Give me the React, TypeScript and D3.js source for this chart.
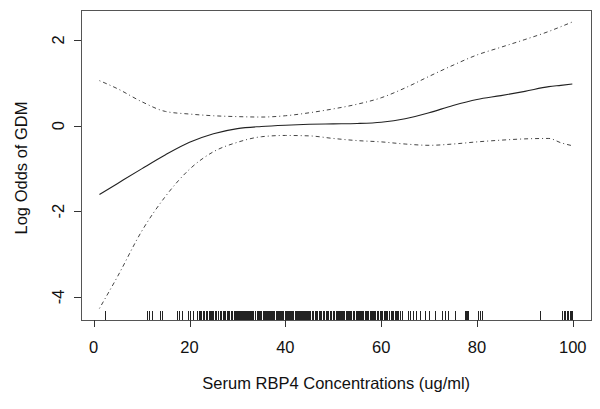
import React from 'react';
import * as d3 from 'd3';

// grid of RBP4 values where the smooth and its bands were read
const xGrid = [1.2, 5, 10, 15, 20, 25, 30, 35, 40, 45, 50, 55, 60, 65, 70, 75, 80, 85, 90, 95, 97.5, 99.9];
const fitLog = [-1.61, -1.35, -1.01, -0.68, -0.39, -0.19, -0.07, -0.02, 0.01, 0.03, 0.04, 0.05, 0.08, 0.16, 0.3, 0.47, 0.61, 0.7, 0.8, 0.91, 0.94, 0.97];
const upperBand = [1.05, 0.86, 0.56, 0.33, 0.27, 0.23, 0.21, 0.2, 0.23, 0.3, 0.39, 0.5, 0.65, 0.88, 1.15, 1.41, 1.65, 1.83, 2.01, 2.2, 2.31, 2.42];
const lowerBand = [-4.27, -3.52, -2.47, -1.65, -1.02, -0.61, -0.39, -0.26, -0.23, -0.24, -0.3, -0.35, -0.38, -0.43, -0.46, -0.43, -0.38, -0.34, -0.31, -0.3, -0.4, -0.47];

// rug: observed concentrations
const rugValues = [
  2.4, 11.1, 11.5, 12.1, 13.8, 14.2, 17.3, 17.8, 18.4, 19.7, 20.1, 20.8, 21.5,
  21.9, 22.2, 22.5, 22.8, 23.1, 23.4, 23.7, 24.1, 24.3, 24.5, 24.7, 25.0, 25.3, 25.6,
  25.9, 26.3, 26.6, 26.9, 27.2, 27.5, 27.8, 28.0, 28.3, 28.6, 28.9, 29.2, 29.5, 29.7,
  29.9, 30.1, 30.3, 30.5, 30.7, 30.9, 31.1, 31.3, 31.5, 31.7, 31.9, 32.1, 32.3, 32.5,
  32.7, 32.9, 33.1, 33.3, 33.6, 34.1, 34.2, 34.4, 34.7, 34.9, 35.0, 35.3, 35.5, 35.8,
  36.0, 36.2, 36.4, 36.6, 36.8, 37.1, 37.3, 37.5, 37.7, 38.0, 38.2, 38.4, 38.6, 38.9,
  39.1, 39.3, 39.6, 39.9, 40.1, 40.4, 40.6, 40.8, 41.0, 41.2, 41.4, 41.7, 42.0, 42.2,
  42.4, 42.6, 42.8, 43.0, 43.2, 43.4, 43.6, 43.8, 44.0, 44.2, 44.4, 44.6, 44.8, 45.0,
  45.2, 45.5, 45.8, 46.1, 46.4, 46.7, 47.0, 47.2, 47.5, 47.8, 48.1, 48.4, 48.6, 48.8,
  49.0, 49.3, 49.6, 49.9, 50.2, 50.5, 50.8, 51.0, 51.2, 51.4, 51.6, 51.8, 52.0, 52.3,
  52.6, 52.8, 53.0, 53.3, 53.5, 53.7, 54.1, 54.4, 54.7, 55.0, 55.2, 55.4, 55.6, 55.8,
  56.0, 56.3, 56.6, 56.9, 57.0, 57.3, 57.6, 57.9, 58.1, 58.4, 58.6, 58.8, 59.1, 59.4,
  59.7, 59.9, 60.2, 60.5, 60.8, 61.0, 61.3, 61.6, 62.0, 62.2, 62.5, 62.8, 63.0, 63.4,
  63.6, 63.9, 64.3, 65.7, 66.0, 66.7, 67.2, 68.1, 69.2, 70.0, 71.3, 72.6, 73.4, 74.0,
  75.4, 77.5, 77.7, 78.0, 78.2, 80.3, 80.7, 81.0, 93.2, 97.7, 98.1, 98.4, 98.8, 99.1,
  99.5, 99.7, 99.9,
];

const xTicks = [0, 20, 40, 60, 80, 100];
const yTicks = [-4, -2, 0, 2];

const xTitle = 'Serum RBP4 Concentrations (ug/ml)';
const yTitle = 'Log Odds of GDM';

const W = 600;
const H = 409;
const box = { left: 81, right: 591, top: 10, bottom: 320 };
const font = '"Liberation Sans", Arial, sans-serif';
const fs = 16.5;

export default function App() {
  const x = d3.scaleLinear().domain([-2.65, 103.8]).range([box.left, box.right]);
  const y = d3.scaleLinear().domain([-4.54, 2.7]).range([box.bottom, box.top]);

  const line = (ys: number[]) =>
    d3
      .line<number>()
      .x((_, i) => x(xGrid[i]))
      .y((d) => y(d))
      .curve(d3.curveMonotoneX)(ys) as string;

  return (
    <svg
      width={W}
      height={H}
      style={{ position: 'absolute', left: 0, top: 0, background: '#fff' }}
      fontFamily={font}
      fontSize={fs}
    >
      <rect x={0} y={0} width={W} height={H} fill="#fff" />

      {/* bands and fit */}
      <path d={line(upperBand)} fill="none" stroke="#444" strokeWidth={1} strokeDasharray="1,3,4,3" />
      <path d={line(lowerBand)} fill="none" stroke="#444" strokeWidth={1} strokeDasharray="1,3,4,3" />
      <path d={line(fitLog)} fill="none" stroke="#222" strokeWidth={1.1} />

      {/* rug */}
      <g stroke="#222" strokeWidth={1} shapeRendering="crispEdges">
        {rugValues.map((v, i) => (
          <line key={i} x1={Math.round(x(v)) + 0.5} x2={Math.round(x(v)) + 0.5} y1={box.bottom} y2={box.bottom - 9} />
        ))}
      </g>

      {/* frame */}
      <rect
        x={box.left}
        y={box.top}
        width={box.right - box.left}
        height={box.bottom - box.top}
        fill="none"
        stroke="#555"
        strokeWidth={1}
        shapeRendering="crispEdges"
      />

      {/* x axis */}
      <g shapeRendering="crispEdges" stroke="#333">
        {xTicks.map((t) => (
          <line key={t} x1={Math.round(x(t)) + 0.5} x2={Math.round(x(t)) + 0.5} y1={box.bottom} y2={box.bottom + 7} />
        ))}
      </g>
      {xTicks.map((t) => (
        <text key={t} x={x(t)} y={353} textAnchor="middle" fill="#111">
          {t}
        </text>
      ))}
      <text x={(x(0) + x(100)) / 2 + 3} y={389} textAnchor="middle" fill="#111">
        {xTitle}
      </text>

      {/* y axis */}
      <g shapeRendering="crispEdges" stroke="#333">
        {yTicks.map((t) => (
          <line key={t} x1={box.left} x2={box.left - 7} y1={Math.round(y(t)) + 0.5} y2={Math.round(y(t)) + 0.5} />
        ))}
      </g>
      {yTicks.map((t) => (
        <text key={t} transform={`translate(63.5,${y(t)}) rotate(-90)`} textAnchor="middle" fill="#111">
          {t}
        </text>
      ))}
      <text transform={`translate(27,${(box.top + box.bottom) / 2 + 3}) rotate(-90)`} textAnchor="middle" fill="#111">
        {yTitle}
      </text>
    </svg>
  );
}
